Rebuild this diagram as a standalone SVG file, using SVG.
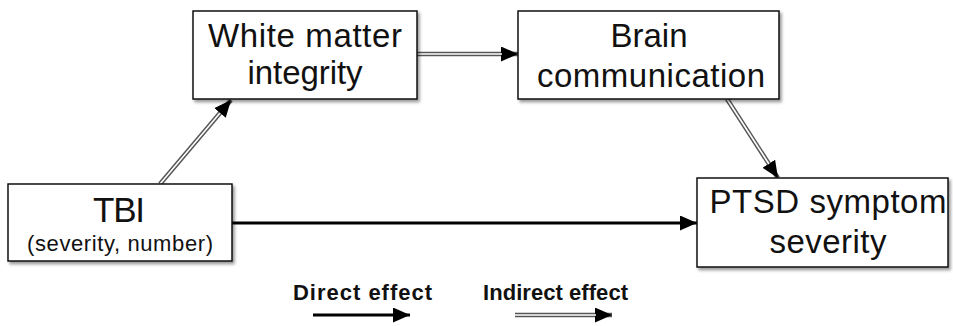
<svg xmlns="http://www.w3.org/2000/svg" width="953" height="326" viewBox="0 0 953 326">
<defs>
<style>
.box{fill:#fff;stroke:#111;stroke-width:1.5;filter:url(#sh)}
.lbl{font-family:"Liberation Sans",Arial,sans-serif;font-size:33px;fill:#111;text-anchor:middle}
.leg{font-family:"Liberation Sans",Arial,sans-serif;font-size:22px;font-weight:bold;fill:#111}
.outer{fill:none;stroke:#555;stroke-width:4.5;marker-end:url(#ah)}
.inner{fill:none;stroke:#fff;stroke-width:1.6}
.direct{fill:none;stroke:#000;stroke-width:3;marker-end:url(#ah)}
</style>
<filter id="sh" x="-10%" y="-10%" width="120%" height="130%">
<feDropShadow dx="2" dy="2.5" stdDeviation="1.5" flood-color="#000" flood-opacity="0.4"/>
</filter>
<marker id="ah" markerUnits="userSpaceOnUse" markerWidth="18" markerHeight="16" refX="17" refY="7.5" orient="auto">
<path d="M0,0 L17,7.5 L0,15 z" fill="#000"/>
</marker>
</defs>

<g id="connectors">
<path class="outer" d="M160,184 L231,100"/>
<path class="inner" d="M160,184 L220,113"/>
<path class="outer" d="M417,54 L518,54"/>
<path class="inner" d="M417,54 L502,54"/>
<path class="outer" d="M727,99 L778,178"/>
<path class="inner" d="M727,99 L769,164"/>
<path class="direct" d="M232,223 L697,223"/>
</g>

<g id="tbi">
<rect class="box" x="8" y="184" width="224" height="77"/>
<text class="lbl" x="119" y="222" style="font-size:35px" textLength="52" lengthAdjust="spacing">TBI</text>
<text class="lbl" x="120" y="251" style="font-size:22px" textLength="186" lengthAdjust="spacing">(severity, number)</text>
</g>

<g id="white-matter">
<rect class="box" x="193" y="11" width="224" height="88"/>
<text class="lbl" x="305" y="47" textLength="194" lengthAdjust="spacing">White matter</text>
<text class="lbl" x="305" y="84" textLength="115" lengthAdjust="spacing">integrity</text>
</g>

<g id="brain">
<rect class="box" x="518" y="11" width="261" height="88"/>
<text class="lbl" x="649" y="47" textLength="77" lengthAdjust="spacing">Brain</text>
<text class="lbl" x="651" y="87" textLength="228" lengthAdjust="spacing">communication</text>
</g>

<g id="ptsd">
<rect class="box" x="697" y="178" width="251" height="89"/>
<text class="lbl" x="828" y="213" textLength="237" lengthAdjust="spacing">PTSD symptom</text>
<text class="lbl" x="828" y="253" textLength="117" lengthAdjust="spacing">severity</text>
</g>

<g id="legend">
<text class="leg" x="293" y="300" textLength="139" lengthAdjust="spacing">Direct effect</text>
<path class="direct" d="M313,315 L410,315"/>
<text class="leg" x="483" y="300" textLength="145" lengthAdjust="spacing">Indirect effect</text>
<path class="outer" d="M515,315 L612,315"/>
<path class="inner" d="M515,315 L596,315"/>
</g>
</svg>
